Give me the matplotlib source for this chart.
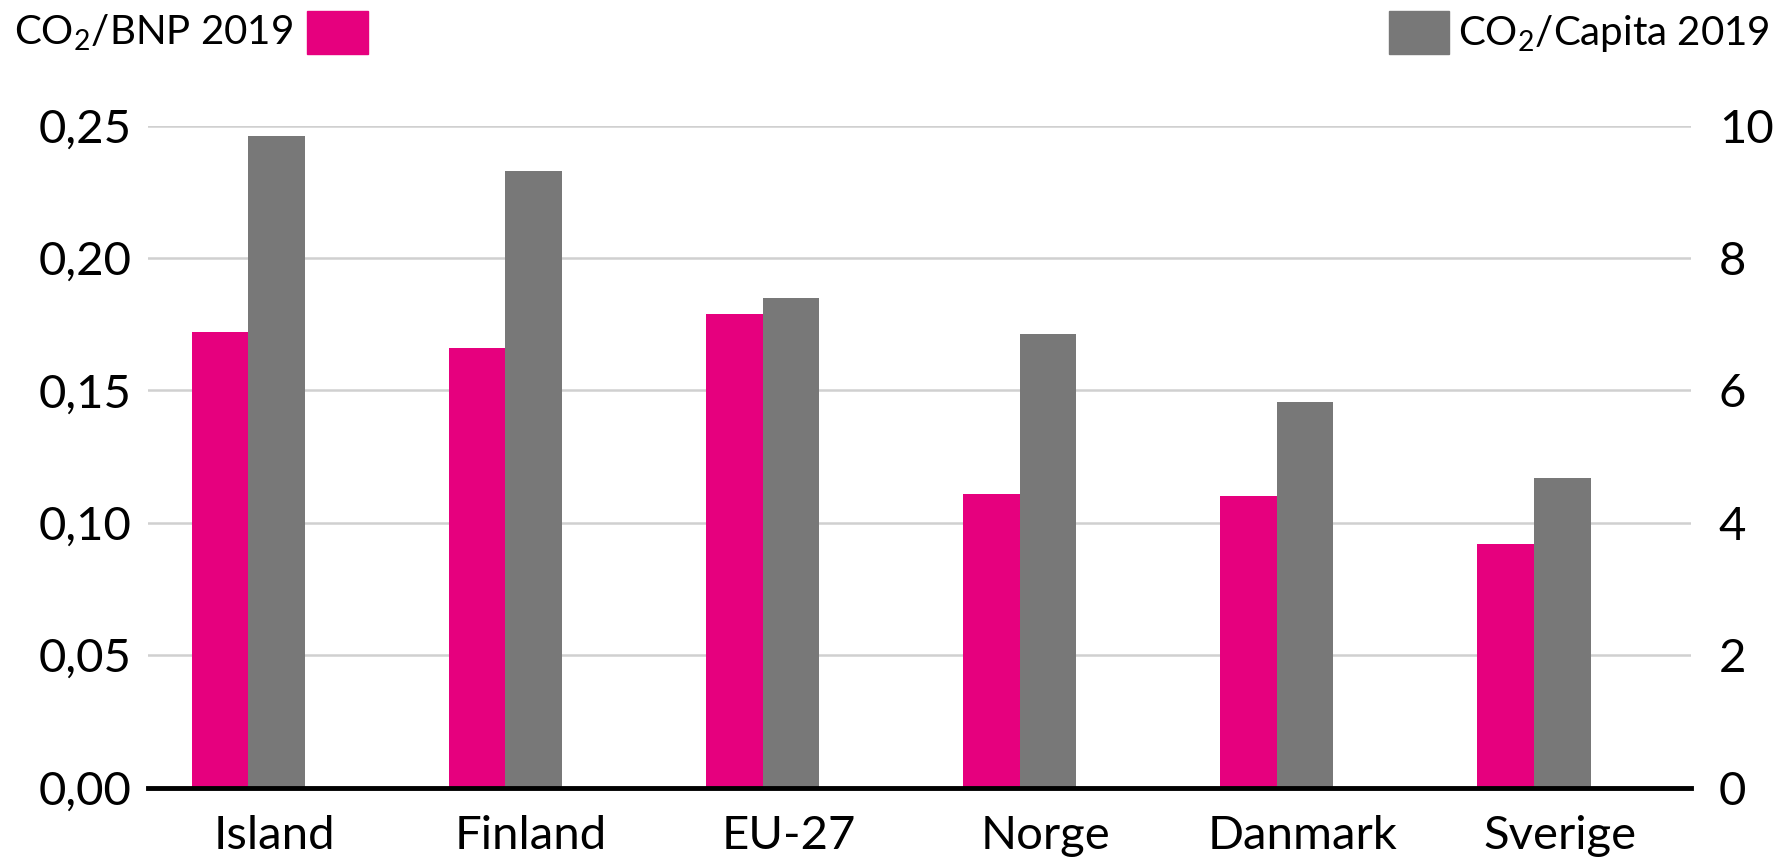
import numpy as np
import matplotlib.pyplot as plt
from matplotlib.patches import Rectangle

plt.rcParams['font.family'] = ['Lato', 'DejaVu Sans']
plt.rcParams['mathtext.fontset'] = 'custom'
plt.rcParams['mathtext.rm'] = 'Lato'
plt.rcParams['mathtext.it'] = 'Lato'

countries = ['Island', 'Finland', 'EU-27', 'Norge', 'Danmark', 'Sverige']
co2_bnp = [0.172, 0.166, 0.179, 0.111, 0.110, 0.092]      # left axis
co2_capita = [9.85, 9.31, 7.40, 6.86, 5.82, 4.68]         # right axis
left_ticks = [0, 0.05, 0.10, 0.15, 0.20, 0.25]
left_labels = ['0,00', '0,05', '0,10', '0,15', '0,20', '0,25']
right_ticks = [0, 2, 4, 6, 8, 10]

PINK = '#E6007E'
GREY = '#787878'

fig = plt.figure(figsize=(17.92, 8.6), dpi=100)
ax = fig.add_axes([0.0826, 0.0843, 0.861, 0.7695])
bx = ax.twinx()

x = np.arange(len(countries))
w = 0.22
ax.bar(x - w / 2, co2_bnp, w, color=PINK, zorder=3)
bx.bar(x + w / 2, co2_capita, w, color=GREY, zorder=3)

ax.set_xlim(-0.39, len(countries) - 0.39)
ax.set_ylim(0, 0.25)
bx.set_ylim(0, 10)

ax.set_yticks(left_ticks)
ax.set_yticklabels(left_labels)
bx.set_yticks(right_ticks)
# category labels sit a bit right of the bar pair, like in the source
ax.set_xticks(x + 0.1)
ax.set_xticklabels(countries)

for a in (ax, bx):
    for s in a.spines.values():
        s.set_visible(False)
    a.tick_params(length=0, labelsize=34, colors='black')
ax.tick_params(axis='y', pad=12)
bx.tick_params(axis='y', pad=20)
ax.tick_params(axis='x', pad=20)

ax.grid(axis='y', color='#d0d0d0', linewidth=1.8, zorder=0)
ax.set_axisbelow(True)
bx.axhline(0, color='black', linewidth=3.5, zorder=5, clip_on=False)

# legend at the top
fig.text(14 / 1792, 1 - 33 / 860, 'CO$_2$/BNP 2019', fontsize=29, va='center', ha='left')
fig.patches.append(Rectangle((307 / 1792, 1 - 54 / 860), 61 / 1792, 43 / 860,
                             transform=fig.transFigure, color=PINK))
fig.patches.append(Rectangle((1389 / 1792, 1 - 54 / 860), 60 / 1792, 43 / 860,
                             transform=fig.transFigure, color=GREY))
fig.text(1770 / 1792, 1 - 33 / 860, 'CO$_2$/Capita 2019', fontsize=29, va='center', ha='right')

fig.savefig('out.png', dpi=100)
